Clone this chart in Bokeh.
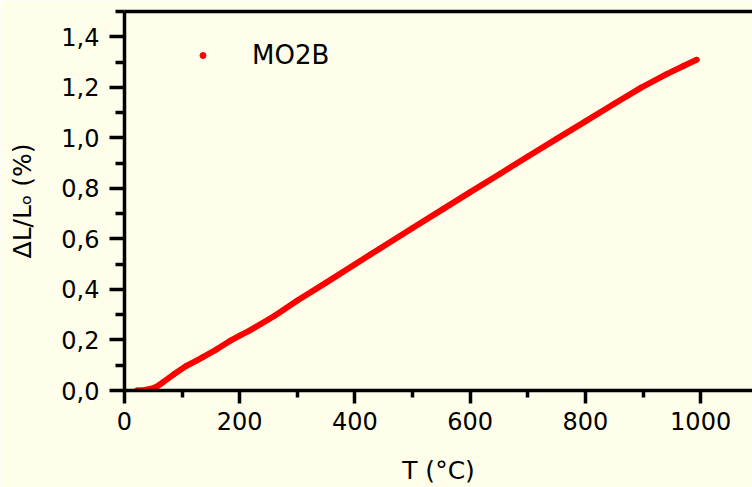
from bokeh.plotting import figure
from bokeh.models import Range1d, FixedTicker, CustomJSTickFormatter, LinearAxis
from bokeh.embed import file_html
from bokeh.resources import INLINE

# Temperature (°C) and relative expansion ΔL/Lo (%)
temperature = [22, 35, 46, 55, 67, 85, 107, 125, 136, 160, 183, 200, 217, 260, 300,
               350, 426, 500, 552, 600, 652, 700, 750, 800, 850, 896, 940, 970, 993]
expansion = [0.000, 0.002, 0.007, 0.014, 0.033, 0.063, 0.097, 0.118, 0.132, 0.163, 0.196,
             0.217, 0.237, 0.295, 0.356, 0.427, 0.537, 0.643, 0.717, 0.785, 0.858,
             0.926, 0.996, 1.065, 1.135, 1.198, 1.251, 1.284, 1.309]
series_name = "MO2B"

x_major = [0, 200, 400, 600, 800, 1000]
x_minor = [100, 300, 500, 700, 900]
y_major = [0.0, 0.2, 0.4, 0.6, 0.8, 1.0, 1.2, 1.4]
y_minor = [0.1, 0.3, 0.5, 0.7, 0.9, 1.1, 1.3, 1.5]

BG = "#FEFEEA"
FONT = "DejaVu Sans"
RED = "#FF0000"

p = figure(width=752, height=487, output_backend="svg", toolbar_location=None,
           x_range=Range1d(0, 1090), y_range=Range1d(0, 1.5),
           min_border_left=124, min_border_right=0, min_border_top=11, min_border_bottom=97,
           x_axis_label="T (°C)", y_axis_label="ΔL/Lₒ (%)")
p.background_fill_color = BG
p.border_fill_color = BG
p.outline_line_color = None
p.xgrid.visible = False
p.ygrid.visible = False

p.line(temperature, expansion, line_color=RED, line_width=6,
       line_cap="round", line_join="round")
p.scatter(temperature, expansion, size=5, fill_color=RED, line_color=RED, line_width=1,
          legend_label=series_name)

fmt = CustomJSTickFormatter(code="return tick.toFixed(1).replace('.', ',');")

xa = p.xaxis[0]
xa.ticker = FixedTicker(ticks=x_major, minor_ticks=x_minor)
xa.axis_line_width = 3.5
xa.major_tick_line_width = 3.5
xa.minor_tick_line_width = 3.5
xa.major_tick_out = 13
xa.major_tick_in = 0
xa.minor_tick_out = 7
xa.minor_tick_in = 0
xa.major_label_text_font = FONT
xa.major_label_text_font_size = "24px"
xa.major_label_text_color = "black"
xa.major_label_standoff = 8
xa.axis_label_text_font = FONT
xa.axis_label_text_font_size = "25px"
xa.axis_label_text_font_style = "normal"
xa.axis_label_text_color = "black"
xa.axis_label_standoff = 23

ya = p.yaxis[0]
ya.ticker = FixedTicker(ticks=y_major, minor_ticks=y_minor)
ya.formatter = fmt
ya.axis_line_width = 3.5
ya.major_tick_line_width = 3.5
ya.minor_tick_line_width = 3.5
ya.major_tick_out = 15
ya.major_tick_in = 0
ya.minor_tick_out = 9
ya.minor_tick_in = 0
ya.major_label_text_font = FONT
ya.major_label_text_font_size = "24px"
ya.major_label_text_color = "black"
ya.major_label_standoff = 10
ya.axis_label_text_font = FONT
ya.axis_label_text_font_size = "25px"
ya.axis_label_text_font_style = "normal"
ya.axis_label_text_color = "black"
ya.axis_label_standoff = 21

top = LinearAxis(ticker=FixedTicker(ticks=[]), axis_line_width=3.5,
                 major_tick_out=0, major_tick_in=0, minor_tick_out=0, minor_tick_in=0,
                 major_label_text_font_size="0px")
p.add_layout(top, "above")

lg = p.legend[0]
lg.location = (71, 320)
lg.background_fill_alpha = 0
lg.border_line_alpha = 0
lg.padding = 0
lg.margin = 0
lg.glyph_width = 15
lg.label_standoff = 42
lg.label_text_font = FONT
lg.label_text_font_size = "26px"
lg.label_text_color = "black"

open("out.html", "w").write(file_html(p, INLINE))
